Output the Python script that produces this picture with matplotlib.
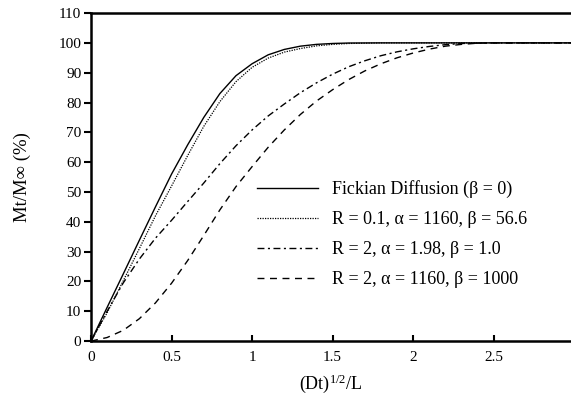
import matplotlib
matplotlib.use("Agg")
import matplotlib.pyplot as plt

plt.rcParams['font.family'] = ['Liberation Serif', 'DejaVu Serif']
plt.rcParams['mathtext.fontset'] = 'custom'
plt.rcParams['mathtext.rm'] = 'Liberation Serif'
plt.rcParams['mathtext.it'] = 'Liberation Serif'

# Data
fick_x = [0, 0.1, 0.2, 0.3, 0.4, 0.5, 0.6, 0.7, 0.8, 0.9, 1.0, 1.1, 1.2, 1.3, 1.4, 1.5, 1.6, 1.8, 2.0, 3.0]
fick_y = [0, 11.3, 22.5, 33.8, 45, 56, 65.8, 75, 83, 89, 93, 96, 97.8, 98.9, 99.5, 99.8, 99.95, 100, 100, 100]

r01_x = [0, 0.1, 0.2, 0.3, 0.4, 0.5, 0.6, 0.7, 0.8, 0.9, 1.0, 1.1, 1.2, 1.3, 1.4, 1.5, 1.6, 1.8, 2.0, 3.0]
r01_y = [0, 9.5, 20.2, 31, 42, 52, 62.2, 72, 80.3, 87, 91.8, 94.9, 96.9, 98.1, 99, 99.5, 99.8, 100, 100, 100]

r2a_x = [0, 0.1, 0.2, 0.3, 0.4, 0.5, 0.6, 0.7, 0.8, 0.9, 1.0, 1.1, 1.2, 1.3, 1.4, 1.5, 1.6, 1.7, 1.8, 1.9, 2.0, 2.1, 2.2, 2.3, 2.5, 3.0]
r2a_y = [0, 10, 19.5, 27.5, 34.5, 40.5, 46.8, 53, 59.5, 65.5, 70.8, 75.5, 79.5, 83.3, 86.6, 89.5, 92, 94, 95.7, 97, 98, 98.8, 99.4, 99.8, 100, 100]

r2b_x = [0, 0.1, 0.2, 0.3, 0.4, 0.5, 0.6, 0.7, 0.8, 0.9, 1.0, 1.1, 1.2, 1.3, 1.4, 1.5, 1.6, 1.7, 1.8, 1.9, 2.0, 2.1, 2.2, 2.3, 2.4, 2.5, 3.0]
r2b_y = [0, 1.2, 3.6, 7.5, 12.8, 19.4, 27, 35.4, 44, 51.8, 58.5, 65, 70.8, 76, 80.5, 84.3, 87.7, 90.6, 93, 95, 96.6, 97.9, 98.9, 99.5, 99.9, 100, 100]

labels = ["Fickian Diffusion (\u03b2 = 0)",
          "R = 0.1, \u03b1 = 1160, \u03b2 = 56.6",
          "R = 2, \u03b1 = 1.98, \u03b2 = 1.0",
          "R = 2, \u03b1 = 1160, \u03b2 = 1000"]

fig = plt.figure(figsize=(5.71, 4.08), dpi=100)
ax = fig.add_axes([0.1594, 0.164, 0.8406, 0.804])

ax.plot(fick_x, fick_y, color='black', lw=1.0, ls='-', label=labels[0])
ax.plot(r01_x, r01_y, color='black', lw=0.9, ls=(0, (1, 1)), label=labels[1])
ax.plot(r2a_x, r2a_y, color='black', lw=1.0, ls=(0, (5, 2.5, 1.5, 2.5)), label=labels[2])
ax.plot(r2b_x, r2b_y, color='black', lw=1.0, ls=(0, (5, 4)), label=labels[3])

ax.set_xlim(0, 2.98)
ax.set_ylim(0, 110)
ax.set_xticks([0, 0.5, 1, 1.5, 2, 2.5])
ax.set_xticklabels(['0', '0.5', '1', '1.5', '2', '2.5'])
ax.set_yticks(range(0, 111, 10))

for s in ['left', 'bottom', 'top']:
    ax.spines[s].set_linewidth(1.8)
ax.spines['right'].set_visible(False)

ax.tick_params(axis='y', direction='out', length=5, width=1.5, labelsize=11, pad=2)
ax.tick_params(axis='x', direction='in', length=4, width=1.5, labelsize=11, pad=7)

ax.set_ylabel("Mt/M\u221e (%)", fontsize=13.5, labelpad=20)
ax.set_xlabel("(Dt)$^{1/2}$/L", fontsize=13, labelpad=6)

leg = ax.legend(loc='upper left', bbox_to_anchor=(0.345, 0.49), frameon=False,
                borderpad=0, borderaxespad=0,
                fontsize=13, handlelength=3.4, handletextpad=0.8, labelspacing=0.72)

fig.savefig("out.png", dpi=100)
